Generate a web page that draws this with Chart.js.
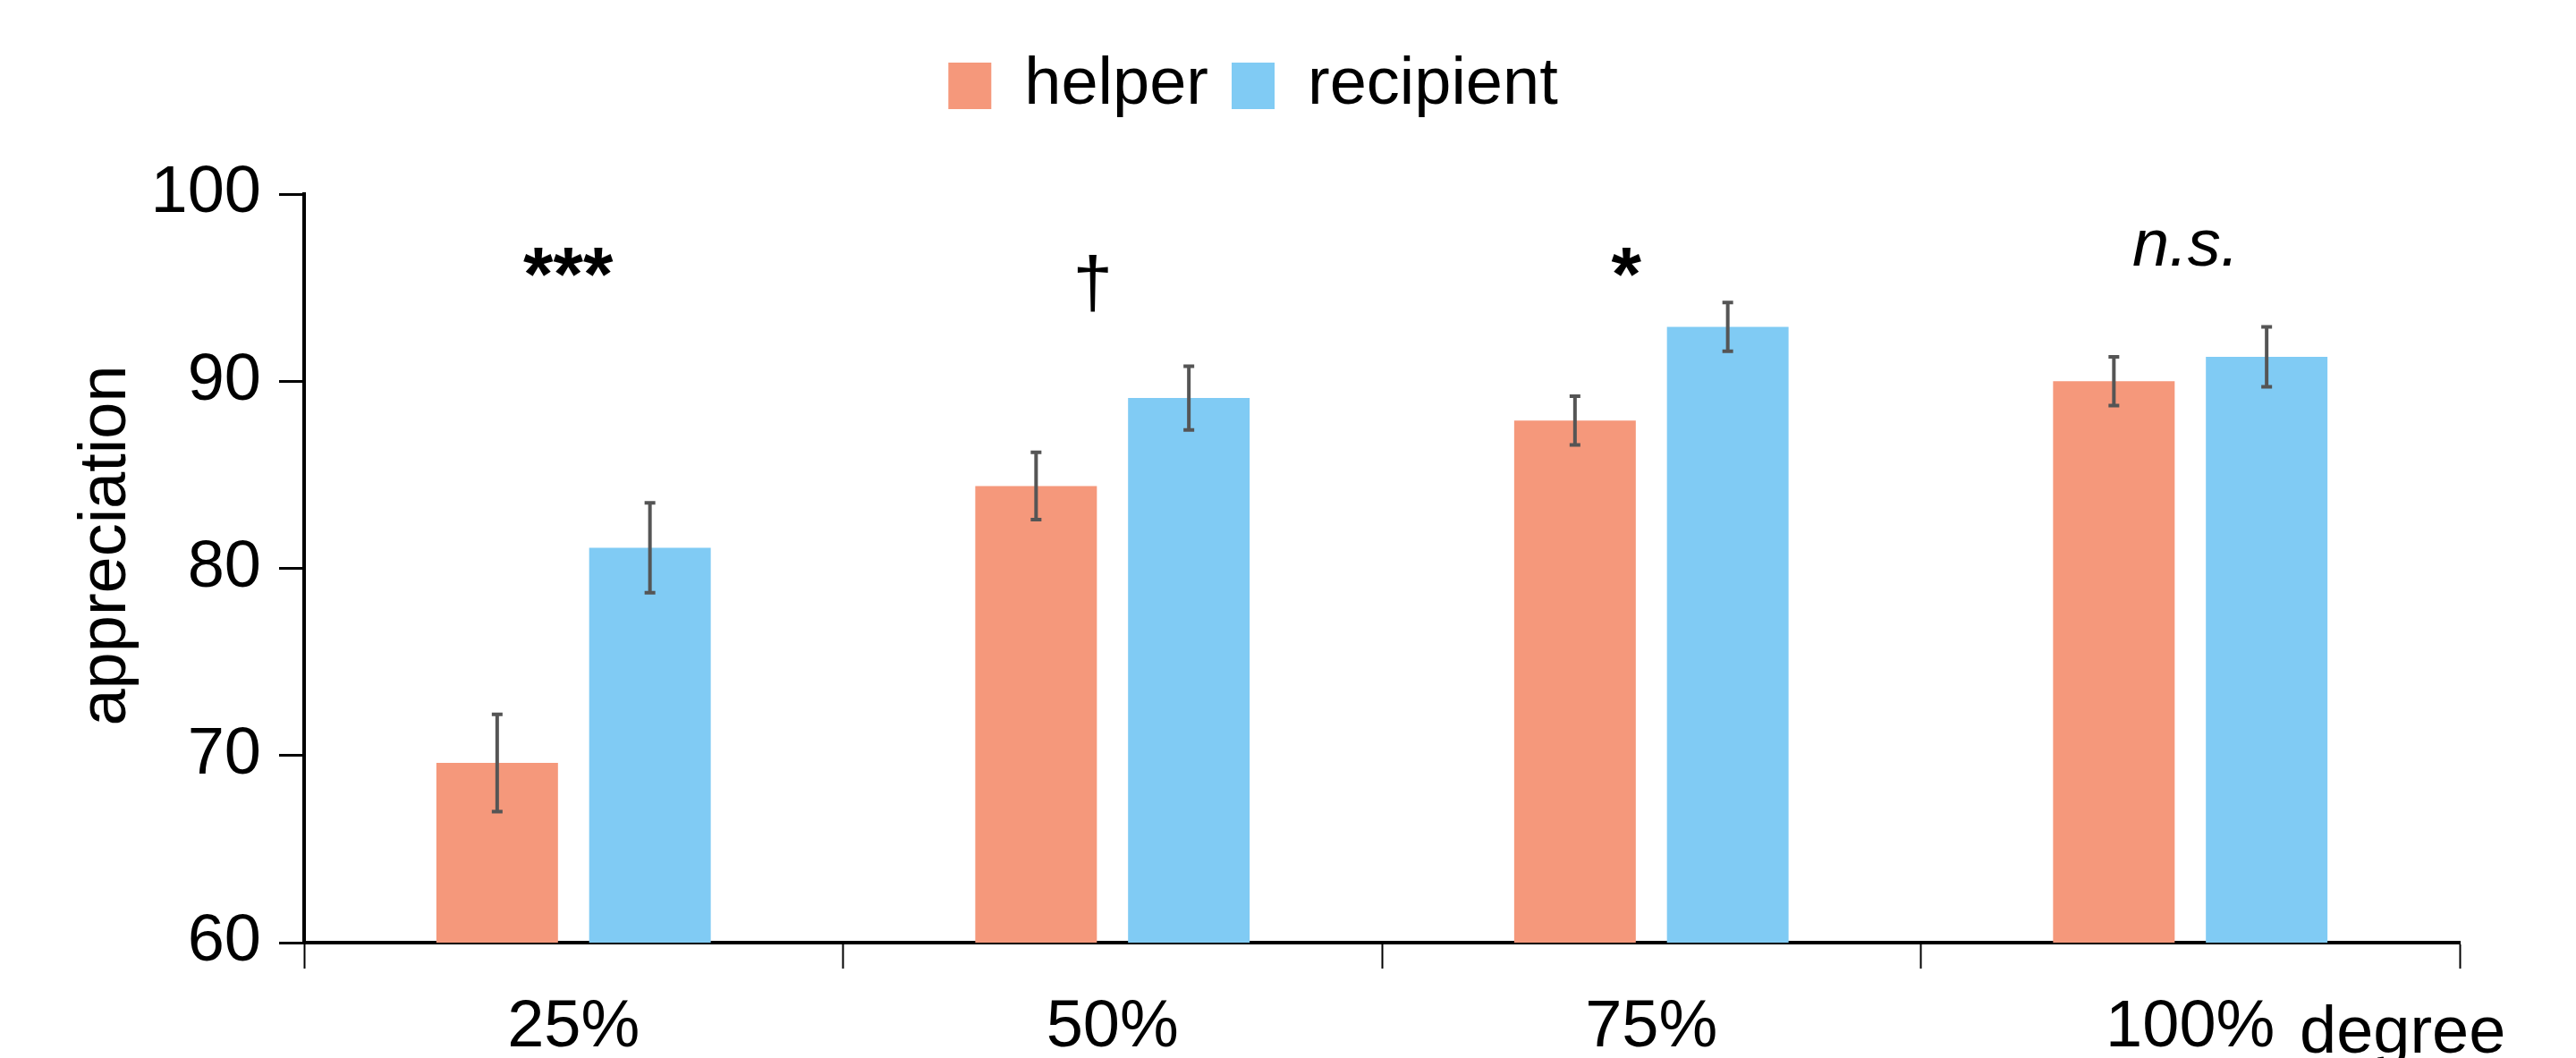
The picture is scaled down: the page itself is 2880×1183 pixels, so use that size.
<!DOCTYPE html>
<html>
<head>
<meta charset="utf-8">
<script src="https://cdn.jsdelivr.net/npm/chart.js@4.4.1/dist/chart.umd.min.js"></script>
<style>
  html, body { margin: 0; padding: 0; background: #fff; }
</style>
</head>
<body>
<canvas id="appreciationChart" width="2880" height="1183"></canvas>
<script>
// values
const degrees = ["25%", "50%", "75%", "100%"];
const helperMeans = [69.6, 84.4, 87.9, 90.0];
const helperErr = [2.6, 1.8, 1.3, 1.3];
const recipientMeans = [81.1, 89.1, 92.9, 91.3];
const recipientErr = [2.4, 1.7, 1.3, 1.6];
const sigMarks = ["***", "\u2020", "*", "n.s."];
const sigLevels = [94.3, 94.0, 94.3, 96.2];
const yTicks = [60, 70, 80, 90, 100];

const FONT = "'Liberation Sans', Arial, Helvetica, sans-serif";
const helperColour = "#F5987B";
const recipientColour = "#80CBF4";

// fixed legend band so the plot starts where the original does,
// and nudge the legend a bit right like in the original
const legendSpace = {
  id: "legendSpace",
  beforeInit(chart) {
    const legend = chart.legend;
    const fit = legend.fit;
    legend.fit = function () {
      fit.call(this);
      this.height = 184;
    };
    const draw = legend.draw;
    legend.draw = function () {
      this.ctx.save();
      this.ctx.translate(26, 0);
      draw.call(this);
      this.ctx.restore();
    };
  },
};

const errorBars = {
  id: "errorBars",
  afterDatasetsDraw(chart) {
    const { ctx } = chart;
    const y = chart.scales.y;
    ctx.save();
    ctx.strokeStyle = "#555555";
    ctx.lineWidth = 4;
    chart.data.datasets.forEach((ds, i) => {
      chart.getDatasetMeta(i).data.forEach((bar, j) => {
        const top = y.getPixelForValue(ds.data[j] + ds.errors[j]);
        const bot = y.getPixelForValue(ds.data[j] - ds.errors[j]);
        ctx.beginPath();
        ctx.moveTo(bar.x, top);
        ctx.lineTo(bar.x, bot);
        ctx.moveTo(bar.x - 6, top);
        ctx.lineTo(bar.x + 6, top);
        ctx.moveTo(bar.x - 6, bot);
        ctx.lineTo(bar.x + 6, bot);
        ctx.stroke();
      });
    });
    ctx.restore();
  },
};

const sigNudge = [-6, -22, -28, -5]; // marks sit a little left of centre

const extraText = {
  id: "extraText",
  afterDraw(chart) {
    const { ctx, chartArea } = chart;
    const x = chart.scales.x;
    const y = chart.scales.y;
    ctx.save();
    ctx.fillStyle = "#000";
    ctx.textAlign = "center";
    ctx.textBaseline = "alphabetic";
    sigMarks.forEach((m, i) => {
      if (m === "n.s.") ctx.font = "italic 74px " + FONT;
      else if (m.startsWith("*")) ctx.font = "bold 86px " + FONT;
      else ctx.font = "80px " + FONT;
      ctx.fillText(m, x.getPixelForValue(i) + sigNudge[i], y.getPixelForValue(sigLevels[i]));
    });

    // axis names
    ctx.font = "74px " + FONT;
    ctx.textAlign = "left";
    ctx.fillText("degree", chartArea.right - 179, 1177);

    ctx.translate(120, 610);
    ctx.rotate(-Math.PI / 2);
    ctx.textAlign = "center";
    ctx.textBaseline = "middle";
    ctx.fillText("appreciation", 0, 0);
    ctx.restore();
  },
};

const ctx = document.getElementById("appreciationChart").getContext("2d");

new Chart(ctx, {
  type: "bar",
  data: {
    labels: degrees,
    datasets: [
      { label: "helper", data: helperMeans, errors: helperErr, backgroundColor: helperColour },
      { label: "recipient", data: recipientMeans, errors: recipientErr, backgroundColor: recipientColour },
    ],
  },
  options: {
    responsive: false,
    animation: false,
    devicePixelRatio: 1,
    categoryPercentage: 0.567,
    barPercentage: 0.796,
    layout: { padding: { left: 0, right: 130, top: 33, bottom: 0 } },
    plugins: {
      legend: {
        position: "top",
        labels: {
          font: { family: FONT, size: 74 },
          color: "#000",
          boxWidth: 48,
          boxHeight: 52,
          padding: 26,
        },
      },
      tooltip: { enabled: false },
    },
    scales: {
      x: {
        grid: {
          drawOnChartArea: false,
          tickLength: 29,
          tickWidth: 2,
          tickColor: "#000",
          offset: true,
        },
        border: { color: "#000", width: 4 },
        ticks: {
          font: { family: FONT, size: 74 },
          color: "#000",
          padding: 22,
        },
        afterFit(scale) {
          scale.height = 129;
        },
      },
      y: {
        min: 60,
        max: 100,
        afterBuildTicks(scale) {
          scale.ticks = yTicks.map((v) => ({ value: v }));
        },
        grid: {
          drawOnChartArea: false,
          tickLength: 28,
          tickWidth: 3,
          tickColor: "#000",
        },
        border: { color: "#000", width: 4 },
        ticks: {
          font: { family: FONT, size: 74 },
          color: "#000",
          padding: 20,
        },
        afterFit(scale) {
          scale.width = 340;
        },
      },
    },
  },
  plugins: [legendSpace, errorBars, extraText],
});
</script>
</body>
</html>
